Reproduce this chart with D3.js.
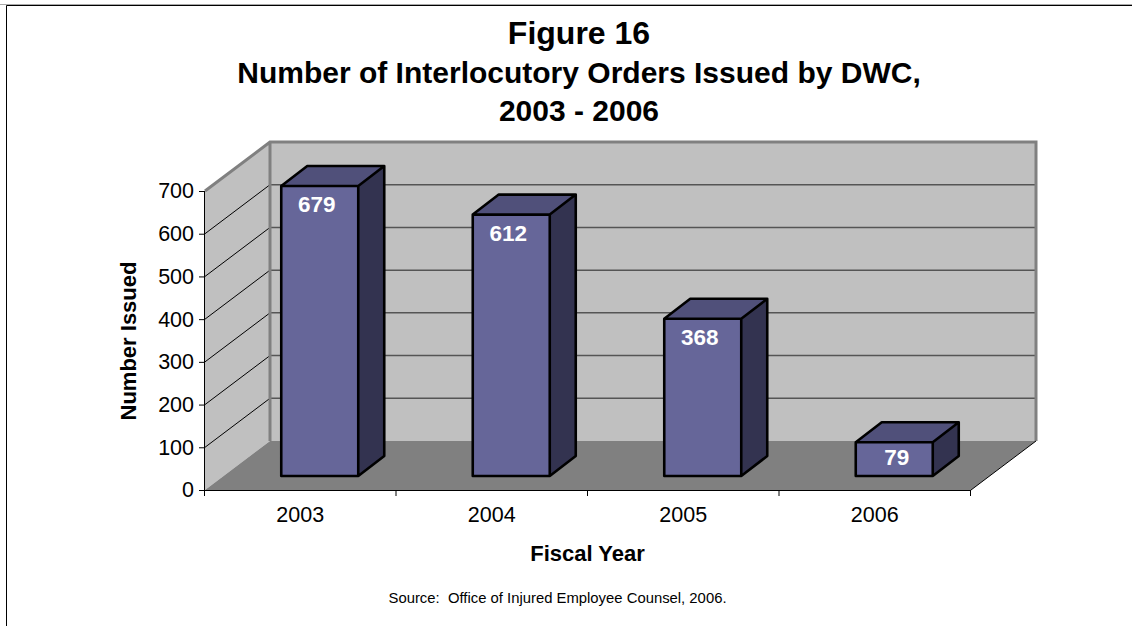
<!DOCTYPE html>
<html><head><meta charset="utf-8">
<script src="https://cdn.jsdelivr.net/npm/d3@7/dist/d3.min.js"></script>
<style>html,body{margin:0;padding:0;background:#fff}svg{display:block}text{font-family:"Liberation Sans",Arial,sans-serif;fill:#000;white-space:pre}</style>
</head><body><svg id="c" width="1132" height="626"></svg>
<script>
const titleLines = ["Figure 16","Number of Interlocutory Orders Issued by DWC,","2003 - 2006"];
const categories = ["2003","2004","2005","2006"];
const values = [679,612,368,79];
const yTicks = [0,100,200,300,400,500,600,700];
const yAxisTitle = "Number Issued";
const xAxisTitle = "Fiscal Year";
const source = "Source:  Office of Injured Employee Counsel, 2006.";

const svg = d3.select("#c");
const L=205,R=971,B=490,T=191, DX=65, DY=-49;
const x = d3.scaleBand().domain(categories).range([L,R]);
const y = d3.scaleLinear().domain([0,700]).range([B,T]);
const pts = a=>a.map(p=>p.join(",")).join(" ");

// frame
svg.append("path").attr("d","M0 4.5H1132").attr("stroke","#a8a8a8").attr("fill","none");
svg.append("path").attr("d","M6.5 626V5.5H1132").attr("stroke","#000").attr("fill","none");

// walls
const wallTop=y(700);
svg.append("polygon").attr("points",pts([[L,B],[L+DX,B+DY],[L+DX,wallTop+DY],[L,wallTop]])).attr("fill","#c0c0c0");
svg.append("polygon").attr("points",pts([[L+DX,B+DY],[R+DX,B+DY],[R+DX,wallTop+DY],[L+DX,wallTop+DY]])).attr("fill","#c0c0c0");
svg.append("polygon").attr("points",pts([[L,B],[L+DX,B+DY],[R+DX,B+DY],[R,B]])).attr("fill","#808080");

// gridlines
yTicks.slice(1).forEach(t=>{
  const v=y(t);
  if(t<700){svg.append("line").attr("x1",L).attr("y1",v).attr("x2",L+DX).attr("y2",v+DY).attr("stroke","#000").attr("stroke-width",1);
  svg.append("line").attr("x1",L+DX).attr("y1",v+DY).attr("x2",R+DX).attr("y2",v+DY).attr("stroke","#555").attr("stroke-width",1.5);}
});
// wall edges
svg.append("path").attr("d",`M${L} ${wallTop}L${L+DX} ${wallTop+DY}H${R+DX}V${B+DY}M${L+DX} ${wallTop+DY}V${B+DY}`)
  .attr("fill","none").attr("stroke","#808080").attr("stroke-width",3);
// floor front edges
svg.append("path").attr("d",`M${R} ${B}L${R+DX} ${B+DY}`).attr("stroke","#000").attr("fill","none");

// axes
const yAxis = d3.axisLeft(y).tickValues(yTicks).tickSize(6).tickPadding(5).tickFormat(d3.format("d"));
const gy = svg.append("g").attr("transform",`translate(${L},0)`).call(yAxis);
gy.select(".domain").attr("d",`M-0.5 ${T}V${B}`).attr("stroke","#000");
gy.selectAll("text").attr("font-size",21.5).attr("font-family","Liberation Sans");

const xAxisLine = svg.append("g");
xAxisLine.append("line").attr("x1",L-1).attr("x2",R).attr("y1",B+.5).attr("y2",B+.5).attr("stroke","#000");
[...categories.map(c=>x(c)),R].forEach(v=>xAxisLine.append("line").attr("x1",v-.5).attr("x2",v-.5).attr("y1",B).attr("y2",B+6).attr("stroke","#000"));
svg.selectAll(".xl").data(categories).join("text").attr("class","xl")
  .attr("x",d=>x(d)+x.bandwidth()/2-.5).attr("y",521.5).attr("text-anchor","middle").attr("font-size",21.5).text(d=>d);

// bars
const barW=77, off=14, offX=19, bdx=26, bdy=-20;
const bars = svg.selectAll(".bar").data(categories.map((c,i)=>({c,v:values[i]}))).join("g").attr("class","bar");
bars.each(function(d){
  const g=d3.select(this);
  const x0=x(d.c)+x.bandwidth()/2+offX-barW/2, x1=x0+barW;
  const yb=B-off, yt=y(d.v)-off;
  const small=d.v<100;
  g.append("polygon").attr("points",pts([[x1,yt],[x1+bdx,yt+bdy],[x1+bdx,yb+bdy],[x1,yb]])).attr("fill","#333350");
  g.append("polygon").attr("points",pts([[x0,yt],[x0+bdx,yt+bdy],[x1+bdx,yt+bdy],[x1,yt]])).attr("fill","#50507a");
  g.append("rect").attr("x",x0).attr("y",yt).attr("width",barW).attr("height",yb-yt).attr("fill","#666699");
  g.append("path").attr("d",`M${x0} ${yt}H${x1}V${yb}H${x0}ZM${x0} ${yt}L${x0+bdx} ${yt+bdy}H${x1+bdx}V${yb+bdy}L${x1} ${yb}M${x1} ${yt}L${x1+bdx} ${yt+bdy}`)
    .attr("fill","none").attr("stroke","#000").attr("stroke-width",2.6).attr("stroke-linejoin","round");
  g.append("text").attr("x",(x0+x1)/2+(small?2.5:-3)).attr("y",small?yt+23:yt+26.5).attr("text-anchor","middle").attr("font-size",22.5).attr("font-weight","bold").style("fill","#fff").text(d.v);
});

// titles
const ty=[43.5,83,121];
titleLines.forEach((t,i)=>svg.append("text").attr("x",579).attr("y",ty[i]).attr("text-anchor","middle").attr("font-weight","bold").attr("font-size",i==0?32:30).text(t));
svg.append("text").attr("transform","translate(136,341) rotate(-90)").attr("text-anchor","middle").attr("font-weight","bold").attr("font-size",22).text(yAxisTitle);
svg.append("text").attr("x",587.5).attr("y",561).attr("text-anchor","middle").attr("font-weight","bold").attr("font-size",22).text(xAxisTitle);
svg.append("text").attr("x",557.5).attr("y",603).attr("text-anchor","middle").attr("font-size",14.85).text(source);
</script></body></html>
